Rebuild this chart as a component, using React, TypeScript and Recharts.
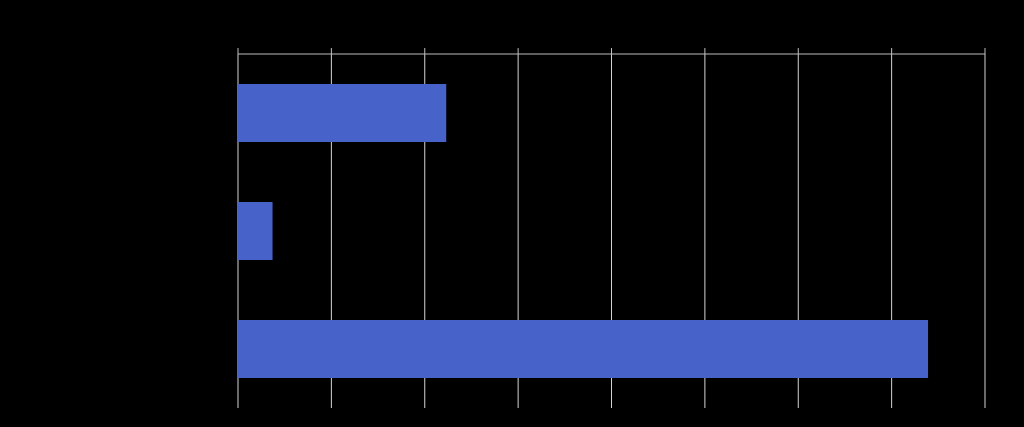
import { BarChart, Bar, XAxis, YAxis, CartesianGrid } from 'recharts'

const categories = ['Category A', 'Category B', 'Category C']
const values = [22.3, 3.7, 73.9]
const xTicks = [0, 10, 20, 30, 40, 50, 60, 70, 80]

const data = categories.map((name, i) => ({ name, value: values[i] }))

export default function App() {
  return (
    <div style={{ position: 'fixed', left: 0, top: 0, width: 1024, height: 427, background: '#000' }}>
      <BarChart
        width={1024}
        height={427}
        data={data}
        layout="vertical"
        margin={{ top: 24, right: 39, bottom: 19, left: 0 }}
      >
        <CartesianGrid horizontal={false} stroke="#d4d4d4" />
        <XAxis
          type="number"
          orientation="top"
          domain={[0, 80]}
          ticks={xTicks}
          stroke="#bdbdbd"
          tick={{ fill: '#000', fontSize: 12, fontFamily: 'Liberation Sans' }}
        />
        <YAxis
          type="category"
          dataKey="name"
          width={238}
          axisLine={false}
          tickLine={false}
          tick={{ fill: '#000', fontSize: 12, fontFamily: 'Liberation Sans' }}
        />
        <Bar dataKey="value" fill="#4763c9" barSize={58} isAnimationActive={false} />
      </BarChart>
    </div>
  )
}
